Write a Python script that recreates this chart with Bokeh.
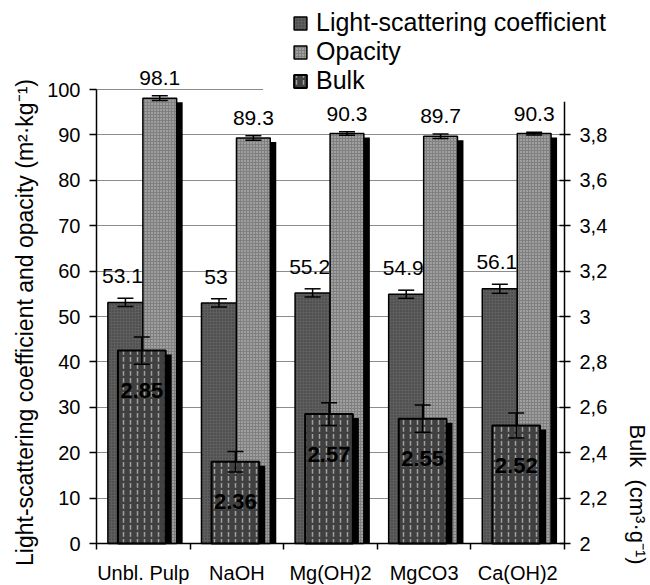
import numpy as np
from math import pi
from bokeh.plotting import figure
from bokeh.models import (Range1d, LinearAxis, FixedTicker, Legend, LegendItem, Label,
                          BoxAnnotation, CustomJSTickFormatter)
from bokeh.core.properties import value
from bokeh.embed import file_html
from bokeh.resources import INLINE

# ---------------- data ----------------
categories = ["Unbl. Pulp", "NaOH", "Mg(OH)2", "MgCO3", "Ca(OH)2"]
light_scattering = [53.1, 53.0, 55.2, 54.9, 56.1]
light_scattering_err = [0.9, 0.9, 0.9, 0.9, 1.0]
opacity = [98.1, 89.3, 90.3, 89.7, 90.3]
opacity_err = [0.5, 0.5, 0.4, 0.5, 0.3]
bulk = [2.85, 2.36, 2.57, 2.55, 2.52]
bulk_err = [0.06, 0.045, 0.05, 0.06, 0.055]
left_ticks = [0, 10, 20, 30, 40, 50, 60, 70, 80, 90, 100]
right_ticks = [2.0, 2.2, 2.4, 2.6, 2.8, 3.0, 3.2, 3.4, 3.6, 3.8]

FONT = "Liberation Sans"
ls_arr = np.array(light_scattering)
ls_e = np.array(light_scattering_err)
op_arr = np.array(opacity)
op_e = np.array(opacity_err)
bk_arr = np.array(bulk)
bk_e = np.array(bulk_err)
xi = np.arange(len(categories), dtype=float)
N = len(categories)

# layout helpers: plot area starts 96 px from the left, 468 px wide (5 categories),
# 454 px for 0..100, its bottom 42 px above the canvas bottom. The frame covers
# the whole canvas and the three axes are pinned at the plot-area edges.
W, H = 650, 585
PLOT_L, PLOT_B = 96, 42
PX_X = 468 / N
PX_Y = 454 / 100.0
X0 = -PLOT_L / PX_X
X1 = (W - PLOT_L) / PX_X
Y0 = -PLOT_B / PX_Y
Y1 = (H - PLOT_B) / PX_Y
SH_DX = 6 / PX_X
SH_DY = 4 / PX_Y
CAP = 16 / PX_X

p = figure(width=W, height=H, x_range=Range1d(X0, X1), y_range=Range1d(Y0, Y1),
           output_backend="svg", toolbar_location=None,
           min_border_left=0, min_border_right=0, min_border_top=0, min_border_bottom=0)
p.extra_y_ranges = {"bulk": Range1d(2 + 0.02 * Y0, 2 + 0.02 * Y1)}
p.outline_line_color = None
p.background_fill_color = "white"
p.border_fill_color = "white"

# grid
p.xgrid.visible = False
p.ygrid.ticker = FixedTicker(ticks=left_ticks)
p.ygrid.cross_bounds = (0, N)
p.ygrid.grid_line_color = "#8c8c8c"
p.ygrid.grid_line_width = 1

# ---------------- bars ----------------
ls_x = xi + 0.309
op_x = xi + 0.676
bk_x = xi + 0.484
W_LS, W_OP, W_BK = 0.375, 0.361, 0.51

# light scattering
p.vbar(x=ls_x + SH_DX, top=ls_arr - SH_DY, bottom=0, width=W_LS, fill_color="black", line_color=None)
r_ls = p.vbar(x=ls_x, top=ls_arr, bottom=0, width=W_LS, fill_color="#5e5e5e",
              hatch_pattern="dot", hatch_color="#3c3c3c", hatch_scale=3, hatch_weight=1,
              line_color="black", line_width=1.5)
p.segment(x0=ls_x, y0=ls_arr - ls_e, x1=ls_x, y1=ls_arr + ls_e, line_color="black", line_width=1.5)
p.segment(x0=ls_x - CAP / 2, y0=ls_arr + ls_e, x1=ls_x + CAP / 2, y1=ls_arr + ls_e, line_color="black", line_width=1.5)
p.segment(x0=ls_x - CAP / 2, y0=ls_arr - ls_e, x1=ls_x + CAP / 2, y1=ls_arr - ls_e, line_color="black", line_width=1.5)
p.text(x=ls_x, y=ls_arr + ls_e, text=[f"{v:g}" for v in light_scattering],
       x_offset=-3, y_offset=-22, text_align="center", text_baseline="middle",
       text_font=value(FONT), text_font_size="21px", text_color="black")

# opacity
p.vbar(x=op_x + SH_DX, top=op_arr - SH_DY, bottom=0, width=W_OP, fill_color="black", line_color=None)
r_op = p.vbar(x=op_x, top=op_arr, bottom=0, width=W_OP, fill_color="#808080",
              hatch_pattern="dot", hatch_color="#cccccc", hatch_scale=3, hatch_weight=1.5,
              line_color="black", line_width=1.5)
p.segment(x0=op_x, y0=op_arr - op_e, x1=op_x, y1=op_arr + op_e, line_color="black", line_width=1.5)
p.segment(x0=op_x - CAP / 2, y0=op_arr + op_e, x1=op_x + CAP / 2, y1=op_arr + op_e, line_color="black", line_width=1.5)
p.segment(x0=op_x - CAP / 2, y0=op_arr - op_e, x1=op_x + CAP / 2, y1=op_arr - op_e, line_color="black", line_width=1.5)
p.text(x=op_x, y=op_arr + op_e, text=[f"{v:g}" for v in opacity],
       y_offset=-18, text_align="center", text_baseline="middle",
       text_font=value(FONT), text_font_size="21px", text_color="black")

# bulk (right axis)
p.vbar(x=bk_x + SH_DX, top=bk_arr - SH_DY * 0.02, bottom=2, width=W_BK, fill_color="black",
       line_color=None, y_range_name="bulk")
r_bk = p.vbar(x=bk_x, top=bk_arr, bottom=2, width=W_BK, fill_color="#404040",
              hatch_pattern="vertical_dash", hatch_color="#a0a0a0", hatch_scale=7, hatch_weight=1.5,
              line_color="black", line_width=2, y_range_name="bulk")
p.segment(x0=bk_x, y0=bk_arr - bk_e, x1=bk_x, y1=bk_arr + bk_e, line_color="black", line_width=1.5,
          y_range_name="bulk")
p.segment(x0=bk_x - CAP / 2, y0=bk_arr + bk_e, x1=bk_x + CAP / 2, y1=bk_arr + bk_e, line_color="black",
          line_width=1.5, y_range_name="bulk")
p.segment(x0=bk_x - CAP / 2, y0=bk_arr - bk_e, x1=bk_x + CAP / 2, y1=bk_arr - bk_e, line_color="black",
          line_width=1.5, y_range_name="bulk")
p.text(x=bk_x, y=bk_arr, text=[f"{v:g}" for v in bulk], y_offset=40,
       text_align="center", text_baseline="middle", text_font=value(FONT),
       text_font_size="22px", text_font_style="bold", text_color="black", y_range_name="bulk")

# ---------------- axes ----------------
xa = p.xaxis[0]
xa.fixed_location = 0
xa.bounds = (0, N)
xa.ticker = FixedTicker(ticks=list(xi + 0.5), minor_ticks=list(np.arange(N + 1, dtype=float)))
xa.major_label_overrides = {float(x + 0.5): c for x, c in zip(xi, categories)}
xa.major_tick_in = 0
xa.major_tick_out = 0
xa.minor_tick_in = 0
xa.minor_tick_out = 6
xa.minor_tick_line_color = "black"
xa.minor_tick_line_width = 1.5
xa.axis_line_color = "black"
xa.axis_line_width = 1.5
xa.major_label_text_font = FONT
xa.major_label_text_font_size = "20px"
xa.major_label_text_color = "black"
xa.major_label_standoff = 12

ya = p.yaxis[0]
ya.fixed_location = 0
ya.ticker = FixedTicker(ticks=left_ticks)
ya.bounds = (0, 100)
ya.major_tick_in = 0
ya.major_tick_out = 7
ya.minor_tick_line_color = None
ya.major_tick_line_color = "black"
ya.major_tick_line_width = 1.5
ya.axis_line_color = "black"
ya.axis_line_width = 1.5
ya.major_label_text_font = FONT
ya.major_label_text_font_size = "20px"
ya.major_label_text_color = "black"
ya.major_label_standoff = 9

ra = LinearAxis(y_range_name="bulk", ticker=FixedTicker(ticks=right_ticks),
                formatter=CustomJSTickFormatter(code="return String(Math.round(tick*10)/10).replace('.', ',');"),
                bounds=(2, 3.95), fixed_location=N)
ra.major_tick_in = 5
ra.major_tick_out = 6
ra.minor_tick_line_color = None
ra.major_tick_line_color = "black"
ra.major_tick_line_width = 1.5
ra.axis_line_color = "black"
ra.axis_line_width = 1.5
ra.major_label_text_font = FONT
ra.major_label_text_font_size = "20px"
ra.major_label_text_color = "black"
ra.major_label_standoff = 9
p.add_layout(ra, "right")

# axis titles (screen units measured from the canvas bottom-left)
p.add_layout(Label(x=24, y=H - 322, x_units="screen", y_units="screen",
                   text="Light-scattering coefficient and opacity (m²·kg⁻¹)",
                   angle=pi / 2, text_align="center", text_baseline="middle",
                   text_font=FONT, text_font_size="23px", text_color="black"))
p.add_layout(Label(x=637, y=H - 494, x_units="screen", y_units="screen",
                   text="Bulk\u00a0 (cm³·g⁻¹)",
                   angle=-pi / 2, text_align="center", text_baseline="middle",
                   text_font=FONT, text_font_size="22px", text_color="black"))

# white area behind legend (covers top gridline as in the original)
p.add_layout(BoxAnnotation(left=1.78, right=N + 0.05, bottom=97.3, top=102, fill_color="white",
                           fill_alpha=1, line_color=None))

legend = Legend(items=[LegendItem(label="Light-scattering coefficient", renderers=[r_ls]),
                       LegendItem(label="Opacity", renderers=[r_op]),
                       LegendItem(label="Bulk", renderers=[r_bk])],
                location=(292, H - 95), padding=8, spacing=-2, glyph_width=16, glyph_height=16,
                label_standoff=8, label_text_font=FONT, label_text_font_size="25px",
                label_text_color="black", border_line_color=None,
                background_fill_color="white", background_fill_alpha=1)
p.add_layout(legend)

open("out.html", "w").write(file_html(p, INLINE))
